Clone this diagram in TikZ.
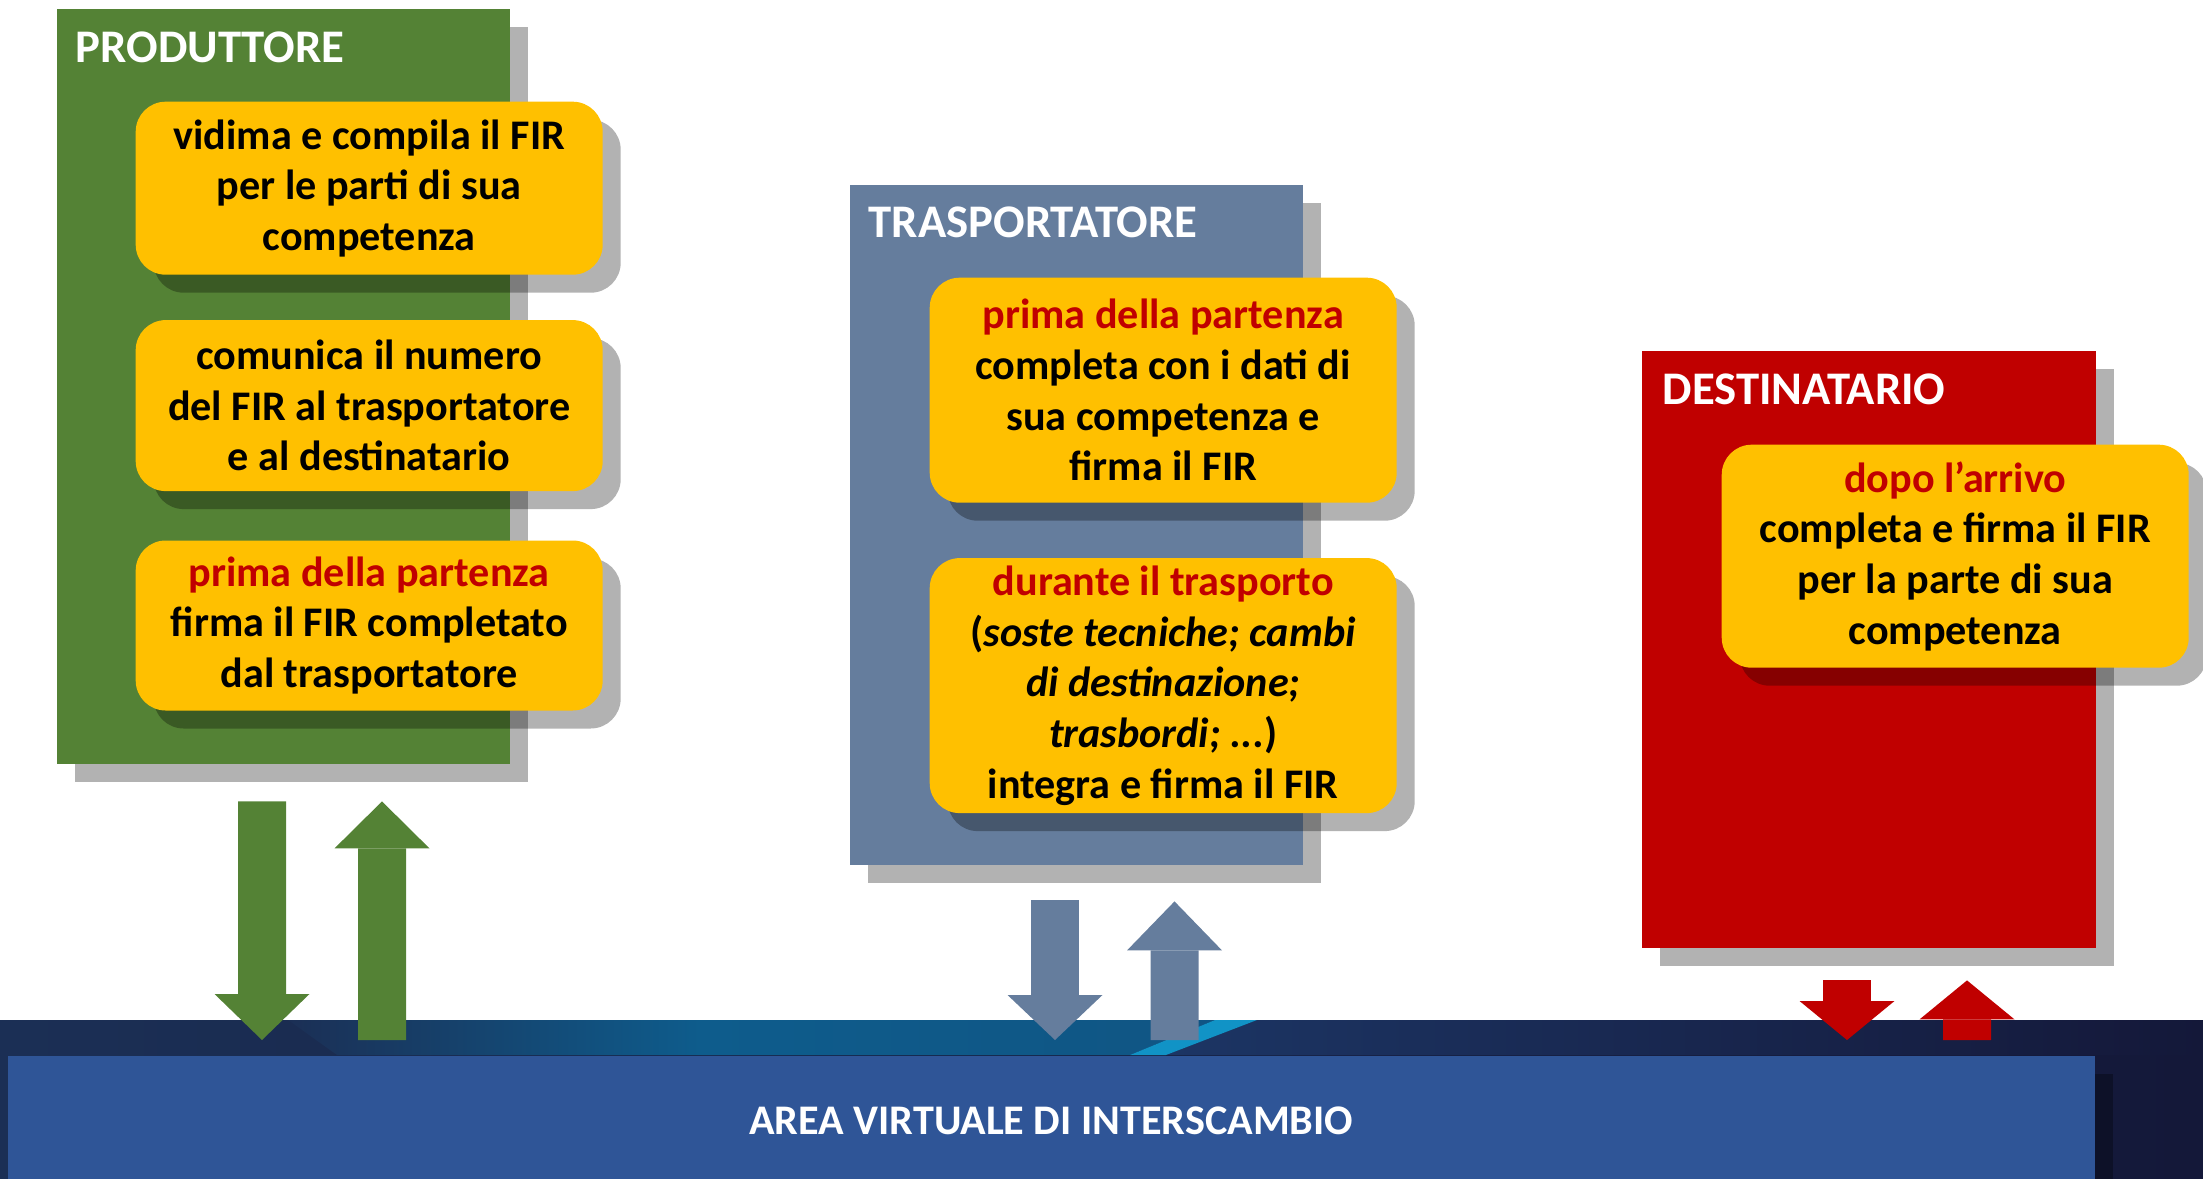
\documentclass[tikz,border=0pt]{standalone}
\usepackage{fontspec}
\setmainfont{Carlito}
\usetikzlibrary{arrows.meta, calc, positioning, shadows}
\definecolor{prodGreen}{HTML}{548235}
\definecolor{traspBlue}{HTML}{657D9D}
\definecolor{destRed}{HTML}{C00000}
\definecolor{noteYellow}{HTML}{FFC000}
\definecolor{areaBlue}{HTML}{2F5597}
\definecolor{bandNavy}{HTML}{1B2F55}
\definecolor{bandTeal}{HTML}{0E5C8C}
\definecolor{bandMid}{HTML}{1C3564}
\definecolor{bandDark}{HTML}{141839}
\definecolor{bandCyan}{HTML}{1193C6}
\tikzset{
  hardshadow/.style={drop shadow={shadow xshift=0.18cm, shadow yshift=-0.18cm, opacity=0.3, fill=black}},
  actor/.style={hardshadow, rectangle, inner sep=0pt, anchor=north west, minimum width=4.53cm},
  actorname/.style={anchor=west, inner sep=0pt, text=white, font=\bfseries\fontsize{13.3}{16}\selectfont},
  task/.style={hardshadow, fill=noteYellow, rounded corners=0.3cm, inner sep=0pt, align=center,
    minimum width=4.67cm, font=\bfseries\fontsize{12}{14.4}\selectfont},
  blockarrow/.style={line width=0.48cm, -{Triangle[width=0.95cm, length=#1, line width=0pt]}},
  blockarrow/.default=0.46cm
}
\newcommand{\whenred}[1]{\textcolor{destRed}{#1}}

\begin{document}
\begin{tikzpicture}
  \useasboundingbox (0,0) rectangle (22.03,-11.79);

  % the three actors
  \node[actor, fill=prodGreen, minimum height=7.55cm] (prod) at (0.56,-0.08) {};
  \node[actorname] (prodname) at ($(prod.north west)+(0.19,-0.39)$) {PRODUTTORE};

  \node[actor, fill=traspBlue, minimum height=6.80cm] (trasp) at (8.49,-1.84) {};
  \node[actorname] (traspname) at ($(trasp.north west)+(0.19,-0.38)$) {TRASPORTATORE};

  \node[actor, fill=destRed, minimum height=5.97cm, minimum width=4.54cm] (dest) at (16.41,-3.50) {};
  \node[actorname] (destname) at ($(dest.north west)+(0.21,-0.39)$) {DESTINATARIO};

  % what each one does
  \node[task, anchor=north west, minimum height=1.73cm] (prodvid) at ($(prod.north west)+(0.79,-0.93)$)
    {vidima e compila il FIR\\per le parti di sua\\competenza};
  \node[task, below=0.44cm of prodvid, minimum height=1.71cm] (prodcom)
    {comunica il numero\\del FIR al trasportatore\\e al destinatario};
  \node[task, below=0.48cm of prodcom, minimum height=1.70cm] (prodfir)
    {\whenred{prima della partenza}\\firma il FIR completato\\dal trasportatore};

  \node[task, anchor=north west, minimum height=2.25cm] (traspcomp) at ($(trasp.north west)+(0.80,-0.93)$)
    {\whenred{prima della partenza}\\completa con i dati di\\sua competenza e\\firma il FIR};
  \node[task, below=0.54cm of traspcomp, minimum height=2.55cm] (traspint)
    {\whenred{durante il trasporto}\\(\textit{soste tecniche; cambi}\\\textit{di destinazione;}\\\textit{trasbordi; ...})\\integra e firma il FIR};

  \node[task, anchor=north west, minimum height=2.23cm] (destcomp) at ($(dest.north west)+(0.80,-0.94)$)
    {\whenred{dopo l’arrivo}\\completa e firma il FIR\\per la parte di sua\\competenza};

  % exchange area
  \shade[left color=bandNavy, right color=bandDark] (0,-10.20) rectangle (22.03,-11.79);
  \shade[left color=bandNavy, right color=bandTeal] (2.88,-10.20) -- (7.0,-10.20) -- (7.0,-10.55) -- (3.37,-10.55) -- cycle;
  \shade[left color=bandTeal, right color=bandTeal!85!bandNavy] (7.0,-10.20) -- (12.15,-10.20) -- (11.30,-10.55) -- (7.0,-10.55) -- cycle;
  \shade[left color=bandMid, right color=bandDark] (12.57,-10.20) -- (22.03,-10.20) -- (22.03,-10.55) -- (11.66,-10.55) -- cycle;
  \fill[bandCyan] (12.15,-10.20) -- (12.57,-10.20) -- (11.66,-10.55) -- (11.30,-10.55) -- cycle;

  \node[hardshadow, fill=areaBlue, anchor=north west, inner sep=0pt, minimum width=20.87cm, minimum height=1.30cm,
    text=white, font=\bfseries\fontsize{12}{14.4}\selectfont] (area) at (0.07,-10.55) {AREA VIRTUALE DI INTERSCAMBIO};

  % flows to and from the area
  \draw[blockarrow, prodGreen] ($(prod.south west)+(2.06,-0.37)$) -- ($(area.north west)+(2.55,0.15)$);
  \draw[blockarrow=0.47cm, prodGreen] ($(area.north west)+(3.75,0.15)$) -- ($(prod.south west)+(3.26,-0.37)$);

  \draw[blockarrow=0.45cm, traspBlue] ($(trasp.south west)+(2.06,-0.35)$) -- ($(area.north west)+(10.48,0.15)$);
  \draw[blockarrow=0.49cm, traspBlue] ($(area.north west)+(11.675,0.15)$) -- ($(trasp.south west)+(3.255,-0.36)$);

  \draw[blockarrow=0.39cm, destRed] ($(dest.south west)+(2.06,-0.32)$) -- ($(area.north west)+(18.40,0.15)$);
  \draw[blockarrow=0.39cm, destRed] ($(area.north west)+(19.60,0.15)$) -- ($(dest.south west)+(3.26,-0.32)$);
\end{tikzpicture}
\end{document}
